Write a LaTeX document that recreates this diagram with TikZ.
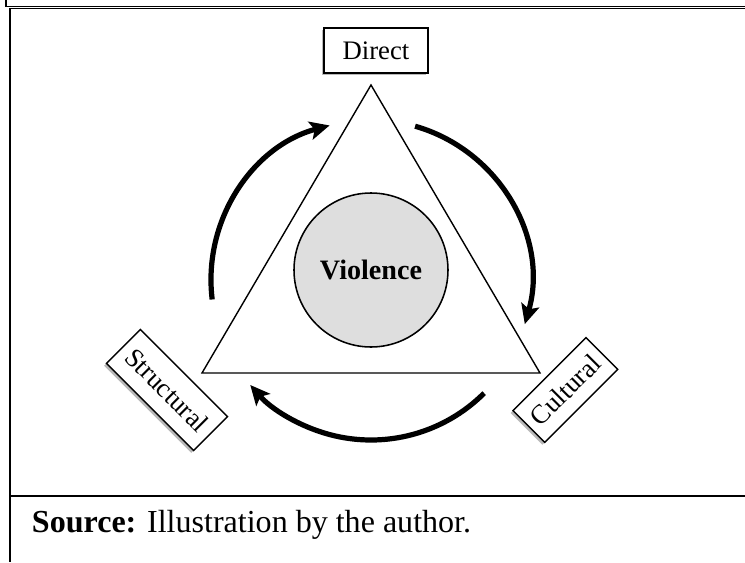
\documentclass[tikz,border=0pt]{standalone}
\usepackage{fontspec}
\setmainfont{Liberation Serif}
\usetikzlibrary{arrows.meta,shadows}
\definecolor{grigio}{HTML}{DEDEDE}

\begin{document}
\begin{tikzpicture}[
    etichetta/.style={draw, line width=1pt, fill=white, inner sep=0pt,
        font=\fontsize{19}{22}\selectfont,
        drop shadow={shadow xshift=-0.06cm, shadow yshift=-0.06cm, fill=black!55}},
    freccia/.style={line width=3.7pt, -{Stealth[length=14pt, width=13pt, inset=3pt]}}
]
    \useasboundingbox (-9.275,-7.3) rectangle (9.35,6.75);

    % Cornice
    \draw[line width=0.9pt] (-9.125,6.75) |- (9.35,6.58);
    \draw[line width=0.9pt] (9.35,6.53) -| (-9.025,-7.3);
    \draw[line width=1.4pt] (-9.025,-5.65) -- (9.35,-5.65);

    % Triangolo
    \coordinate (vertice) at (0,4.625);
    \coordinate (sinistra) at (-4.225,-2.575);
    \coordinate (destra) at (4.225,-2.575);
    \draw[line width=1pt] (vertice) -- (sinistra) -- (destra) -- cycle;

    % Cerchio centrale
    \node[circle, draw, line width=1.1pt, fill=grigio, minimum size=3.85cm,
        font=\bfseries\fontsize{20}{24}\selectfont] (violenza) at (0,0) {Violence};

    % Etichette dei vertici
    \node[etichetta, minimum width=2.6cm, minimum height=1.125cm] (diretta) at (0.125,5.49) {Direct};
    \node[etichetta, minimum width=3.08cm, minimum height=1.2cm, rotate=-45] (strutturale) at (-5.1,-3.0) {Structural};
    \node[etichetta, minimum width=2.58cm, minimum height=1.12cm, rotate=45] (culturale) at (4.86,-3.0) {Cultural};

    % Frecce circolari
    \coordinate (centro) at (0,-0.25);
    \draw[freccia] ([shift={(187:4)}]centro) arc[start angle=187, end angle=105, radius=4];
    \draw[freccia] ([shift={(74:4)}]centro) arc[start angle=74, end angle=-16, radius=4];
    \draw[freccia] ([shift={(-45:4)}]centro) arc[start angle=-45, end angle=-139, radius=4];

    % Fonte
    \node[anchor=base west, font=\fontsize{22.8}{26}\selectfont] (fonte) at (-8.6,-6.55)
        {\textbf{Source:} Illustration by the author.};
\end{tikzpicture}
\end{document}
